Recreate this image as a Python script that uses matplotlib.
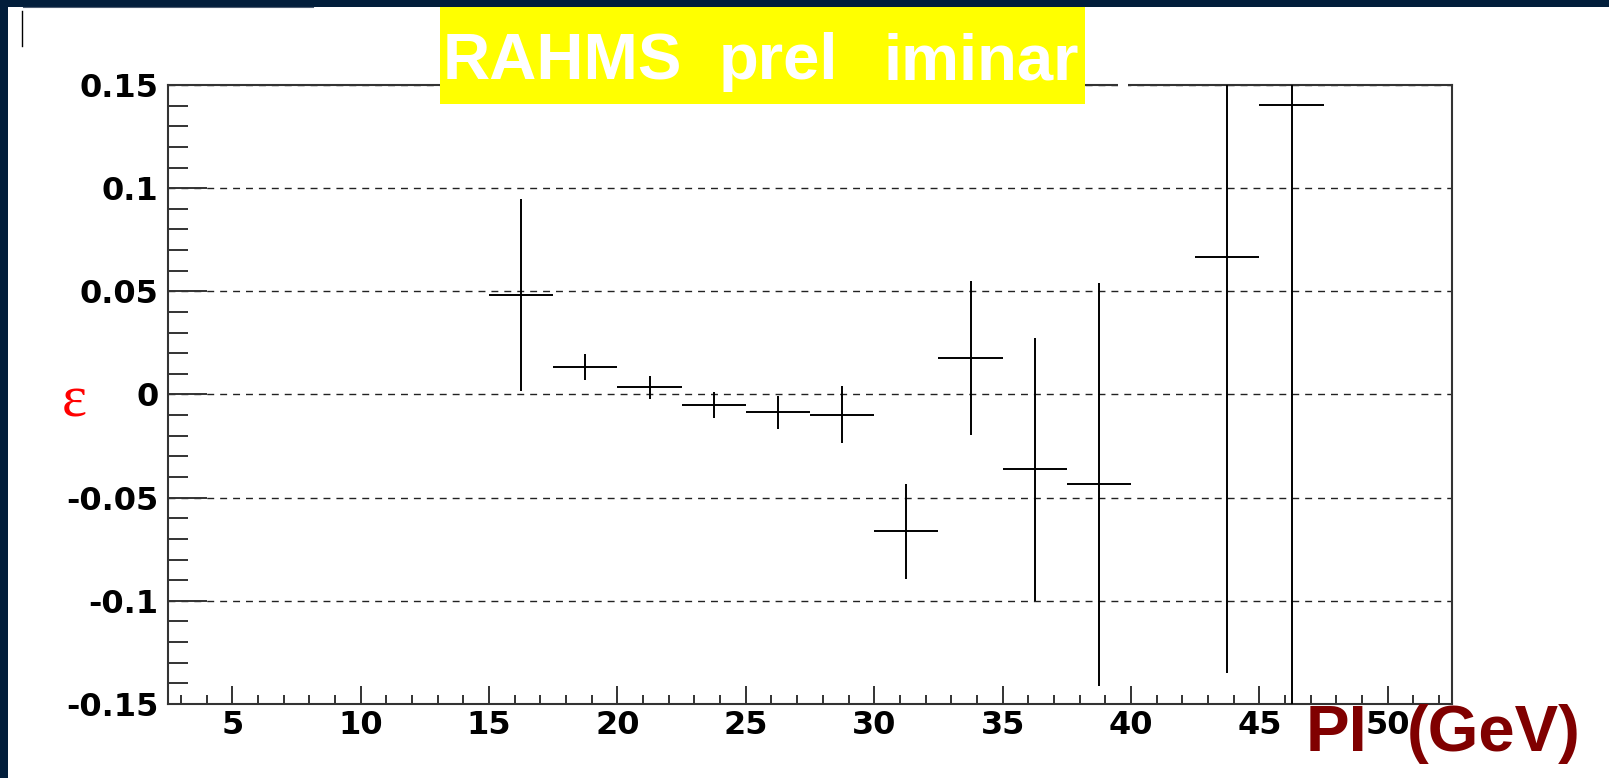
import numpy as np
import matplotlib
matplotlib.use('Agg')
import matplotlib.pyplot as plt
from matplotlib.ticker import MultipleLocator
from matplotlib.patches import Rectangle
from matplotlib.lines import Line2D
from matplotlib.transforms import Bbox, TransformedBbox

# ------------------------------------------------------------------
# data
# ------------------------------------------------------------------
p_centre = [16.25, 18.75, 21.25, 23.75, 26.25, 28.75, 31.25, 33.75, 36.25, 38.75, 43.75, 46.25]
eps = [0.0483, 0.0132, 0.0035, -0.0052, -0.0087, -0.0097, -0.0663, 0.0179, -0.0363, -0.0435, 0.0666, 0.1401]
eps_err = [0.0464, 0.0062, 0.0055, 0.0062, 0.0082, 0.0137, 0.0231, 0.0373, 0.0636, 0.0976, 0.2017, 0.35]
bin_half = 1.25

ytick_vals = [-0.15, -0.1, -0.05, 0, 0.05, 0.1, 0.15]
ytick_labels = ['-0.15', '-0.1', '-0.05', '0', '0.05', '0.1', '0.15']
xtick_vals = [5, 10, 15, 20, 25, 30, 35, 40, 45, 50]
title_words = ['RAHMS', 'prel', 'iminar']

# ------------------------------------------------------------------
# figure in pixel units
# ------------------------------------------------------------------
W, H, DPI = 1609, 778, 100


def fx(px):
    return px / W


def fy(py):
    return 1 - py / H


fig = plt.figure(figsize=(W / DPI, H / DPI), dpi=DPI)
fig.patch.set_facecolor('white')
ax = fig.add_axes([fx(168), fy(704), (1452 - 168) / W, (704 - 85) / H])

ax.errorbar(p_centre, eps, xerr=bin_half, yerr=eps_err, fmt='none',
            ecolor='black', elinewidth=1.4, capsize=0, zorder=3)

ax.set_xlim(2.5, 52.5)
ax.set_ylim(-0.15, 0.15)
ax.set_xticks(xtick_vals, [str(v) for v in xtick_vals])
ax.set_yticks(ytick_vals, ytick_labels)
ax.xaxis.set_minor_locator(MultipleLocator(1))
ax.yaxis.set_minor_locator(MultipleLocator(0.01))

ax.tick_params(which='both', direction='in', top=False, right=False,
               width=1.4, color='#333333', labelsize=23)
ax.tick_params(axis='x', which='major', length=13, pad=4)
ax.tick_params(axis='x', which='minor', length=6.5)
ax.tick_params(axis='y', which='major', length=28, pad=7)
ax.tick_params(axis='y', which='minor', length=14.4)
plt.setp(ax.get_xticklabels() + ax.get_yticklabels(), fontweight='bold')

ax.yaxis.grid(True, which='major', color='#222222',
              linestyle=(0, (5, 4.3)), linewidth=1.0)
for sp in ax.spines.values():
    sp.set_linewidth(1.5)
    sp.set_color('#333333')

# ------------------------------------------------------------------
# decorations around the frame
# ------------------------------------------------------------------
navy = '#021e3b'
fig.add_artist(Rectangle((0, fy(7)), 1, 7 / H, transform=fig.transFigure,
                         facecolor=navy, edgecolor='none', zorder=5))
fig.add_artist(Rectangle((0, 0), 8 / W, 1, transform=fig.transFigure,
                         facecolor=navy, edgecolor='none', zorder=5))
fig.add_artist(Line2D([fx(23), fx(313)], [fy(6.5), fy(6.5)], transform=fig.transFigure,
                      color='#4d5d72', lw=0.8, zorder=6))
fig.add_artist(Line2D([fx(22), fx(22)], [fy(11), fy(46)], transform=fig.transFigure,
                      color='black', lw=1.0, zorder=6))
# small break in the top frame
fig.add_artist(Rectangle((fx(1118), fy(88)), 10 / W, 6 / H, transform=fig.transFigure,
                         facecolor='white', edgecolor='none', zorder=6))

# yellow banner
fig.add_artist(Rectangle((fx(440), fy(104)), (1085 - 440) / W, (104 - 7) / H,
                         transform=fig.transFigure, facecolor='#ffff00',
                         edgecolor='none', zorder=6))
clip = TransformedBbox(Bbox([[fx(440), fy(104)], [fx(1085), fy(7)]]), fig.transFigure)
for word, x0 in zip(title_words, [443, 719, 884]):
    t = fig.text(fx(x0), fy(79), word, color='white', fontsize=47, fontweight='bold',
                 family='Liberation Sans', ha='left', va='baseline', zorder=7)
    t.set_clip_box(clip)
    t.set_clip_on(True)

# axis labels
fig.text(fx(74), fy(403), 'ε', color='red', fontsize=43,
         family='Liberation Serif', ha='center', va='center', zorder=7)
fig.text(fx(1306), fy(751), 'PI', color='#800000', fontsize=47, fontweight='bold',
         family='Liberation Sans', ha='left', va='baseline', zorder=8)
fig.text(fx(1407), fy(751), '(GeV)', color='#800000', fontsize=47, fontweight='bold',
         family='Liberation Sans', ha='left', va='baseline', zorder=8)

fig.savefig('out.png', dpi=DPI)
